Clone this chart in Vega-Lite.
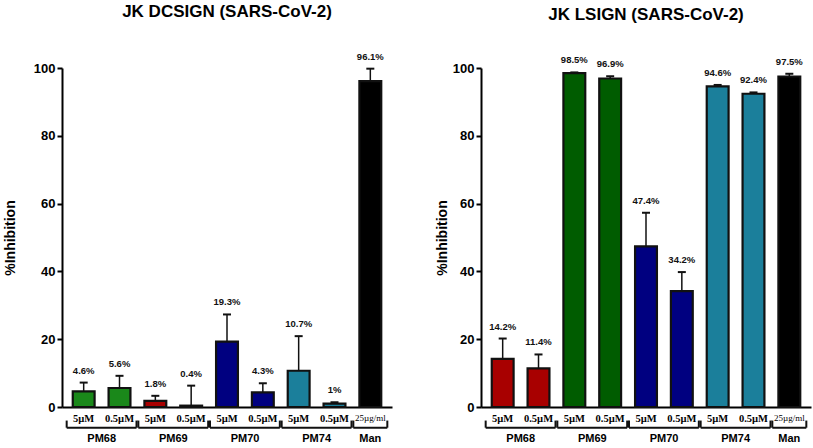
{
  "$schema": "https://vega.github.io/schema/vega-lite/v6.json",
  "background": "white",
  "padding": {"left": 3, "top": 2, "right": 5, "bottom": 0},
  "spacing": 43,
  "config": {
    "font": "Liberation Sans",
    "view": {"stroke": null},
    "axis": {"grid": false}
  },
  "datasets": {
    "dc": [
      {"id": "PM68|5µM", "group": "PM68", "value": 4.6, "top": 7.2, "label": "4.6%"},
      {"id": "PM68|0.5µM", "group": "PM68", "value": 5.6, "top": 9.2, "label": "5.6%"},
      {"id": "PM69|5µM", "group": "PM69", "value": 1.8, "top": 3.3, "label": "1.8%"},
      {"id": "PM69|0.5µM", "group": "PM69", "value": 0.4, "top": 6.3, "label": "0.4%"},
      {"id": "PM70|5µM", "group": "PM70", "value": 19.3, "top": 27.3, "label": "19.3%"},
      {"id": "PM70|0.5µM", "group": "PM70", "value": 4.3, "top": 7.0, "label": "4.3%"},
      {"id": "PM74|5µM", "group": "PM74", "value": 10.7, "top": 20.9, "label": "10.7%"},
      {"id": "PM74|0.5µM", "group": "PM74", "value": 1.0, "top": 1.4, "label": "1%"},
      {"id": "Man|25µg/ml", "group": "Man", "value": 96.1, "top": 99.8, "label": "96.1%"}
    ],
    "ls": [
      {"id": "PM68|5µM", "group": "PM68", "value": 14.2, "top": 20.2, "label": "14.2%"},
      {"id": "PM68|0.5µM", "group": "PM68", "value": 11.4, "top": 15.5, "label": "11.4%"},
      {"id": "PM69|5µM", "group": "PM69", "value": 98.5, "top": 98.7, "label": "98.5%"},
      {"id": "PM69|0.5µM", "group": "PM69", "value": 96.9, "top": 97.6, "label": "96.9%"},
      {"id": "PM70|5µM", "group": "PM70", "value": 47.4, "top": 57.3, "label": "47.4%"},
      {"id": "PM70|0.5µM", "group": "PM70", "value": 34.2, "top": 39.8, "label": "34.2%"},
      {"id": "PM74|5µM", "group": "PM74", "value": 94.6, "top": 95.0, "label": "94.6%"},
      {"id": "PM74|0.5µM", "group": "PM74", "value": 92.4, "top": 92.8, "label": "92.4%"},
      {"id": "Man|25µg/ml", "group": "Man", "value": 97.5, "top": 98.3, "label": "97.5%"}
    ],
    "groups": [
      {"group": "PM68", "first": "PM68|5µM", "last": "PM68|0.5µM"},
      {"group": "PM69", "first": "PM69|5µM", "last": "PM69|0.5µM"},
      {"group": "PM70", "first": "PM70|5µM", "last": "PM70|0.5µM"},
      {"group": "PM74", "first": "PM74|5µM", "last": "PM74|0.5µM"},
      {"group": "Man", "first": "Man|25µg/ml", "last": "Man|25µg/ml"}
    ]
  },
  "resolve": {"scale": {"fill": "independent"}},
  "hconcat": [
    {
      "width": 330,
      "height": 339,
      "title": {"text": "JK DCSIGN (SARS-CoV-2)", "fontSize": 17, "fontWeight": "bold", "color": "#000", "frame": "group", "anchor": "middle", "offset": 31},
      "layer": [
        {
          "data": {"name": "dc"},
          "mark": {"type": "bar", "stroke": "#111", "strokeWidth": 2.2},
          "encoding": {
            "x": {"field": "id", "type": "nominal", "title": null,
              "scale": {"domain": ["PM68|5µM", "PM68|0.5µM", "PM69|5µM", "PM69|0.5µM", "PM70|5µM", "PM70|0.5µM", "PM74|5µM", "PM74|0.5µM", "Man|25µg/ml"], "paddingInner": 0.39, "paddingOuter": 0.3},
              "axis": {"ticks": false, "domainWidth": 2, "domainColor": "#000", "labelAngle": 0, "labelFont": "Liberation Serif",
                "labelFontWeight": {"condition": {"test": "datum.value == 'Man|25µg/ml'", "value": "normal"}, "value": "bold"},
                "labelFontSize": {"condition": {"test": "datum.value == 'Man|25µg/ml'", "value": 9}, "value": 10.5},
                "labelExpr": "split(datum.value, '|')[1]", "labelPadding": 6, "labelColor": "#000"}},
            "y": {"field": "value", "type": "quantitative", "title": "%Inhibition",
              "scale": {"domain": [0, 100]},
              "axis": {"values": [0, 10, 20, 30, 40, 50, 60, 70, 80, 90, 100], "labelExpr": "datum.value % 20 == 0 ? datum.label : ''",
                "tickSize": 5, "tickWidth": 2, "tickColor": "#000", "domainWidth": 2, "domainColor": "#000",
                "labelFontSize": 13, "labelFontWeight": "bold", "labelColor": "#000", "labelPadding": 2,
                "titleFontSize": 14, "titleFontWeight": "bold", "titleColor": "#000", "titlePadding": 16}},
            "fill": {"field": "group", "type": "nominal", "legend": null,
              "scale": {"domain": ["PM68", "PM69", "PM70", "PM74", "Man"], "range": ["#1a881a", "#a80000", "#000080", "#1b7f9b", "#000000"]}}
          }
        },
        {
          "data": {"name": "dc"},
          "mark": {"type": "rule", "strokeWidth": 1.5, "color": "#111"},
          "encoding": {
            "x": {"field": "id", "type": "nominal", "title": null},
            "y": {"field": "value", "type": "quantitative", "title": "%Inhibition"},
            "y2": {"field": "top"}
          }
        },
        {
          "data": {"name": "dc"},
          "mark": {"type": "tick", "thickness": 2, "size": 8, "color": "#111", "opacity": 1},
          "encoding": {
            "x": {"field": "id", "type": "nominal", "title": null},
            "y": {"field": "top", "type": "quantitative", "title": "%Inhibition"}
          }
        },
        {
          "data": {"name": "dc"},
          "mark": {"type": "text", "dy": -12, "baseline": "middle", "fontSize": 9.5, "fontWeight": "bold", "color": "#111"},
          "encoding": {
            "x": {"field": "id", "type": "nominal", "title": null},
            "y": {"field": "top", "type": "quantitative", "title": "%Inhibition"},
            "text": {"field": "label"}
          }
        },
        {
          "data": {"name": "groups"},
          "mark": {"type": "rule", "strokeWidth": 2, "color": "#111", "xOffset": -17, "x2Offset": 17},
          "encoding": {
            "x": {"field": "first", "type": "nominal", "title": null},
            "x2": {"field": "last"},
            "y": {"datum": -6.1, "type": "quantitative", "title": "%Inhibition"}
          }
        },
        {
          "data": {"name": "groups"},
          "mark": {"type": "rule", "strokeWidth": 2, "color": "#111", "xOffset": -17},
          "encoding": {
            "x": {"field": "first", "type": "nominal", "title": null},
            "y": {"datum": -4.0, "type": "quantitative", "title": "%Inhibition"},
            "y2": {"datum": -6.1}
          }
        },
        {
          "data": {"name": "groups"},
          "mark": {"type": "rule", "strokeWidth": 2, "color": "#111", "xOffset": 17},
          "encoding": {
            "x": {"field": "last", "type": "nominal", "title": null},
            "y": {"datum": -4.0, "type": "quantitative", "title": "%Inhibition"},
            "y2": {"datum": -6.1}
          }
        },
        {
          "data": {"name": "groups"},
          "transform": [{"filter": "datum.first != datum.last"}],
          "mark": {"type": "text", "baseline": "middle", "fontSize": 11, "fontWeight": "bold", "color": "#000", "xOffset": 18},
          "encoding": {
            "x": {"field": "first", "type": "nominal", "title": null},
            "y": {"datum": -9.5, "type": "quantitative", "title": "%Inhibition"},
            "text": {"field": "group"}
          }
        },
        {
          "data": {"name": "groups"},
          "transform": [{"filter": "datum.first == datum.last"}],
          "mark": {"type": "text", "baseline": "middle", "fontSize": 11, "fontWeight": "bold", "color": "#000"},
          "encoding": {
            "x": {"field": "first", "type": "nominal", "title": null},
            "y": {"datum": -9.5, "type": "quantitative", "title": "%Inhibition"},
            "text": {"field": "group"}
          }
        }
      ]
    },
    {
      "width": 330,
      "height": 339,
      "title": {"text": "JK LSIGN (SARS-CoV-2)", "fontSize": 17, "fontWeight": "bold", "color": "#000", "frame": "group", "anchor": "middle", "offset": 31},
      "layer": [
        {
          "data": {"name": "ls"},
          "mark": {"type": "bar", "stroke": "#111", "strokeWidth": 2.2},
          "encoding": {
            "x": {"field": "id", "type": "nominal", "title": null,
              "scale": {"domain": ["PM68|5µM", "PM68|0.5µM", "PM69|5µM", "PM69|0.5µM", "PM70|5µM", "PM70|0.5µM", "PM74|5µM", "PM74|0.5µM", "Man|25µg/ml"], "paddingInner": 0.39, "paddingOuter": 0.3},
              "axis": {"ticks": false, "domainWidth": 2, "domainColor": "#000", "labelAngle": 0, "labelFont": "Liberation Serif",
                "labelFontWeight": {"condition": {"test": "datum.value == 'Man|25µg/ml'", "value": "normal"}, "value": "bold"},
                "labelFontSize": {"condition": {"test": "datum.value == 'Man|25µg/ml'", "value": 9}, "value": 10.5},
                "labelExpr": "split(datum.value, '|')[1]", "labelPadding": 6, "labelColor": "#000"}},
            "y": {"field": "value", "type": "quantitative", "title": "%Inhibition",
              "scale": {"domain": [0, 100]},
              "axis": {"values": [0, 10, 20, 30, 40, 50, 60, 70, 80, 90, 100], "labelExpr": "datum.value % 20 == 0 ? datum.label : ''",
                "tickSize": 5, "tickWidth": 2, "tickColor": "#000", "domainWidth": 2, "domainColor": "#000",
                "labelFontSize": 13, "labelFontWeight": "bold", "labelColor": "#000", "labelPadding": 2,
                "titleFontSize": 14, "titleFontWeight": "bold", "titleColor": "#000", "titlePadding": 3}},
            "fill": {"field": "group", "type": "nominal", "legend": null,
              "scale": {"domain": ["PM68", "PM69", "PM70", "PM74", "Man"], "range": ["#a80000", "#005c00", "#000080", "#1b7f9b", "#000000"]}}
          }
        },
        {
          "data": {"name": "ls"},
          "mark": {"type": "rule", "strokeWidth": 1.5, "color": "#111"},
          "encoding": {
            "x": {"field": "id", "type": "nominal", "title": null},
            "y": {"field": "value", "type": "quantitative", "title": "%Inhibition"},
            "y2": {"field": "top"}
          }
        },
        {
          "data": {"name": "ls"},
          "mark": {"type": "tick", "thickness": 2, "size": 8, "color": "#111", "opacity": 1},
          "encoding": {
            "x": {"field": "id", "type": "nominal", "title": null},
            "y": {"field": "top", "type": "quantitative", "title": "%Inhibition"}
          }
        },
        {
          "data": {"name": "ls"},
          "mark": {"type": "text", "dy": -12, "baseline": "middle", "fontSize": 9.5, "fontWeight": "bold", "color": "#111"},
          "encoding": {
            "x": {"field": "id", "type": "nominal", "title": null},
            "y": {"field": "top", "type": "quantitative", "title": "%Inhibition"},
            "text": {"field": "label"}
          }
        },
        {
          "data": {"name": "groups"},
          "mark": {"type": "rule", "strokeWidth": 2, "color": "#111", "xOffset": -17, "x2Offset": 17},
          "encoding": {
            "x": {"field": "first", "type": "nominal", "title": null},
            "x2": {"field": "last"},
            "y": {"datum": -6.1, "type": "quantitative", "title": "%Inhibition"}
          }
        },
        {
          "data": {"name": "groups"},
          "mark": {"type": "rule", "strokeWidth": 2, "color": "#111", "xOffset": -17},
          "encoding": {
            "x": {"field": "first", "type": "nominal", "title": null},
            "y": {"datum": -4.0, "type": "quantitative", "title": "%Inhibition"},
            "y2": {"datum": -6.1}
          }
        },
        {
          "data": {"name": "groups"},
          "mark": {"type": "rule", "strokeWidth": 2, "color": "#111", "xOffset": 17},
          "encoding": {
            "x": {"field": "last", "type": "nominal", "title": null},
            "y": {"datum": -4.0, "type": "quantitative", "title": "%Inhibition"},
            "y2": {"datum": -6.1}
          }
        },
        {
          "data": {"name": "groups"},
          "transform": [{"filter": "datum.first != datum.last"}],
          "mark": {"type": "text", "baseline": "middle", "fontSize": 11, "fontWeight": "bold", "color": "#000", "xOffset": 18},
          "encoding": {
            "x": {"field": "first", "type": "nominal", "title": null},
            "y": {"datum": -9.5, "type": "quantitative", "title": "%Inhibition"},
            "text": {"field": "group"}
          }
        },
        {
          "data": {"name": "groups"},
          "transform": [{"filter": "datum.first == datum.last"}],
          "mark": {"type": "text", "baseline": "middle", "fontSize": 11, "fontWeight": "bold", "color": "#000"},
          "encoding": {
            "x": {"field": "first", "type": "nominal", "title": null},
            "y": {"datum": -9.5, "type": "quantitative", "title": "%Inhibition"},
            "text": {"field": "group"}
          }
        }
      ]
    }
  ]
}
